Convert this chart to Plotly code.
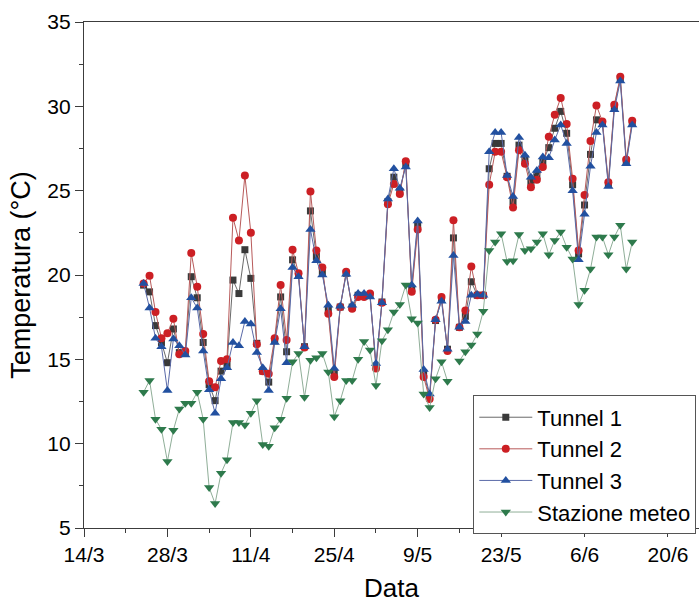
import pandas as pd
import plotly.graph_objects as go

# ---- data (daily values, 24/3 .. 14/6) ----
dates = pd.date_range("2022-03-24", "2022-06-14", freq="D").strftime("%Y-%m-%d").tolist()

tunnel1 = [19.4, 19.0, 17.0, 16.0, 14.8, 16.8, 15.4, 15.4, 19.9, 18.65,
           16.0, 13.5, 12.55, 14.3, 14.7, 19.7, 18.9, 21.5, 19.8, 15.95,
           14.3, 13.65, 16.1, 18.7, 15.45, 20.9, 20.0, 15.75, 23.8, 21.1,
           20.2, 17.9, 14.2, 18.1, 20.1, 18.1, 18.8, 18.75, 18.8, 14.6,
           18.4, 24.35, 25.8, 24.95, 26.6, 19.2, 23.0, 14.2, 12.8, 17.3,
           18.55, 15.6, 22.2, 16.9, 17.55, 19.6, 18.8, 18.8, 26.3, 27.8,
           27.8, 25.85, 24.35, 27.7, 26.9, 25.5, 25.9, 26.7, 27.55, 28.7,
           29.7, 28.4, 25.35, 21.25, 24.15, 27.15, 29.2, 29.0, 25.4, 30.0,
           31.65, 26.75, 29.0]

tunnel2 = [19.5, 19.95, 17.8, 16.25, 16.55, 17.4, 15.3, 15.5, 21.3, 19.3,
           16.5, 13.7, 13.35, 14.9, 15.0, 23.4, 22.05, 25.9, 22.5, 15.9,
           14.3, 14.15, 16.25, 19.4, 16.15, 21.5, 20.1, 15.7, 24.95, 21.45,
           20.45, 17.7, 13.95, 18.1, 20.2, 18.0, 18.7, 18.7, 18.9, 14.45,
           18.35, 24.2, 25.4, 24.8, 26.75, 19.0, 22.7, 13.95, 12.65, 17.35,
           18.7, 15.5, 23.25, 16.9, 17.9, 20.5, 18.8, 18.8, 25.35, 27.3,
           27.3, 25.8, 24.0, 27.4, 26.6, 25.2, 25.65, 26.4, 28.2, 29.5,
           30.5, 28.95, 25.7, 21.45, 24.75, 27.95, 30.05, 29.1, 25.5, 30.1,
           31.75, 26.85, 29.15]

tunnel3 = [19.5, 18.05, 16.25, 15.75, 13.15, 16.2, 15.8, 15.25, 18.65, 18.05,
           15.5, 13.2, 11.8, 13.85, 14.5, 16.0, 15.8, 17.25, 17.1, 15.4,
           14.5, 13.15, 16.0, 18.0, 14.8, 20.45, 19.9, 15.75, 22.7, 20.85,
           20.0, 18.2, 14.45, 18.15, 20.05, 18.2, 18.9, 18.9, 18.7, 14.75,
           18.35, 24.5, 26.3, 25.15, 26.4, 19.4, 23.2, 14.4, 12.95, 17.35,
           18.45, 15.6, 21.15, 16.9, 17.25, 18.8, 18.85, 18.8, 27.3, 28.45,
           28.45, 25.9, 24.65, 28.15, 27.1, 25.8, 26.2, 27.0, 26.95, 28.0,
           28.9, 27.8, 25.0, 20.9, 23.6, 26.45, 28.45, 28.9, 25.25, 29.8,
           31.5, 26.6, 28.9]

stazione = [13.05, 13.75, 11.45, 10.85, 8.95, 10.8, 12.05, 12.4, 12.4, 13.05,
            11.45, 7.4, 6.45, 8.25, 9.05, 11.25, 11.25, 11.1, 11.8, 12.55,
            9.95, 9.85, 10.95, 11.45, 12.7, 14.85, 15.35, 12.75, 14.95, 15.1,
            15.35, 14.25, 11.6, 12.55, 13.75, 13.75, 15.0, 16.05, 15.55, 13.45,
            16.1, 16.75, 17.8, 18.25, 19.4, 17.4, 17.15, 12.95, 12.15, 13.85,
            14.85, 13.7, None, 14.9, 15.45, 15.85, 16.5, 17.85, 21.45, 21.95,
            22.45, 20.8, 20.85, 22.4, 21.45, 21.55, 21.95, 22.45, 21.2, 22.05,
            22.55, 21.65, 20.95, 18.25, 19.1, 20.35, 22.25, 22.25, 21.2, 22.25,
            22.95, 20.35, 21.95]

tick_dates = ["2022-03-14", "2022-03-28", "2022-04-11", "2022-04-25",
              "2022-05-09", "2022-05-23", "2022-06-06", "2022-06-20"]
tick_labels = ["14/3", "28/3", "11/4", "25/4", "9/5", "23/5", "6/6", "20/6"]

FONT = "Liberation Sans, Arial, sans-serif"

series = [
    ("Tunnel 1", tunnel1, "square", 7, "#3a3a3a", "#6a6a6a"),
    ("Tunnel 2", tunnel2, "circle", 8, "#cc1f24", "#b85a5a"),
    ("Tunnel 3", tunnel3, "triangle-up", 9, "#2250a0", "#5a6aa8"),
    ("Stazione meteo", stazione, "triangle-down", 9, "#2e7a4c", "#8fae98"),
]

fig = go.Figure()
for name, vals, sym, size, mcol, lcol in series:
    fig.add_trace(go.Scatter(
        x=dates, y=vals, name=name, mode="lines+markers",
        connectgaps=False,
        line=dict(color=lcol, width=1),
        marker=dict(symbol=sym, size=size, color=mcol, line=dict(width=0)),
    ))

axis_col = "#3c3c3c"
fig.update_layout(
    width=699, height=603,
    margin=dict(l=84, r=0, t=22, b=75, autoexpand=False),
    paper_bgcolor="white", plot_bgcolor="white",
    font=dict(family=FONT, color="black"),
    showlegend=True,
    legend=dict(
        x=0.633, y=0.262, xanchor="left", yanchor="top",
        bgcolor="white", bordercolor="#555555", borderwidth=1,
        font=dict(family=FONT, size=22, color="black"),
        itemwidth=53, tracegroupgap=0,
    ),
    xaxis=dict(
        type="date",
        range=["2022-03-14", "2022-06-25 05:00"],
        tickmode="array", tickvals=tick_dates, ticktext=tick_labels,
        ticks="outside", ticklen=8, tickwidth=1.3, tickcolor=axis_col,
        minor=dict(tickmode="linear", tick0="2022-03-21", dtick=14 * 86400000,
                   ticks="outside", ticklen=4, tickwidth=1.3, tickcolor=axis_col,
                   showgrid=False),
        showline=True, linecolor=axis_col, linewidth=1.3, mirror=True,
        showgrid=False, zeroline=False,
        tickfont=dict(family=FONT, size=21, color="black"),
        title=dict(text="Data", font=dict(family=FONT, size=26, color="black"),
                   standoff=16),
    ),
    yaxis=dict(
        range=[5, 35], tickmode="linear", tick0=5, dtick=5,
        ticks="outside", ticklen=8, tickwidth=1.3, tickcolor=axis_col,
        minor=dict(tickmode="linear", tick0=7.5, dtick=5, ticks="outside",
                   ticklen=4, tickwidth=1.3, tickcolor=axis_col, showgrid=False),
        showline=True, linecolor=axis_col, linewidth=1.3, mirror=False,
        showgrid=False, zeroline=False,
        tickfont=dict(family=FONT, size=21, color="black"),
        title=dict(text="Temperatura (°C)",
                   font=dict(family=FONT, size=27, color="black"), standoff=8),
    ),
)

fig.write_html("out.html")
